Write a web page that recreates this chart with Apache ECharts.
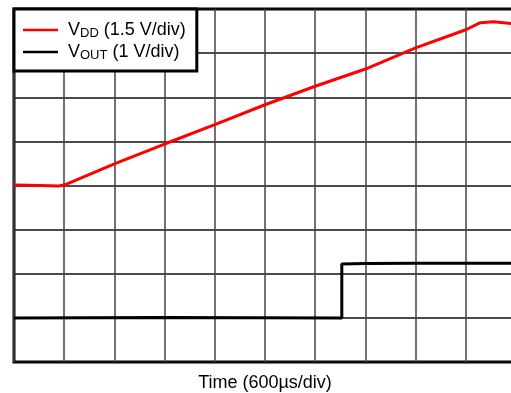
<!DOCTYPE html>
<html>
<head>
<meta charset="utf-8">
<script src="https://cdn.jsdelivr.net/npm/echarts@6/dist/echarts.min.js"></script>
<style>html,body{margin:0;padding:0;background:#fff}#c{width:511px;height:393px}</style>
</head>
<body>
<div id="c"></div>
<script>
// x in divisions (600 µs/div), y in divisions from bottom
const vddX = [0, 0.53, 0.89, 1.0, 2.0, 3.0, 4.0, 5.0, 6.0, 7.0, 8.0, 9.0, 9.29, 9.55, 9.91, 10];
const vddY = [4.01, 4.0, 3.99, 4.01, 4.49, 4.94, 5.38, 5.83, 6.25, 6.64, 7.12, 7.53, 7.69, 7.71, 7.67, 7.66];
const voutX = [0, 3.0, 6.53, 6.53, 7.0, 8.0, 10];
const voutY = [1.0, 1.01, 1.0, 2.22, 2.23, 2.24, 2.24];
const xTicks = [0, 1, 2, 3, 4, 5, 6, 7, 8, 9, 10];
const yTicks = [0, 1, 2, 3, 4, 5, 6, 7, 8];
const seriesNames = ['VDD', 'VOUT'];
const legendLabels = {VDD: 'V{sub|DD} (1.5 V/div)', VOUT: 'V{sub|OUT} (1 V/div)'};
const xTitle = 'Time (600\u00b5s/div)';

const zip = (a, b) => a.map((v, i) => [v, b[i]]);
const chart = echarts.init(document.getElementById('c'));
const font = 'Liberation Sans, Arial, sans-serif';
chart.setOption({
  animation: false,
  grid: {left: 14, top: 9, width: 502, height: 353, show: true, borderColor: '#000', borderWidth: 3,
         backgroundColor: 'transparent', outerBoundsMode: 'none', containLabel: false},
  xAxis: {
    type: 'value', min: xTicks[0], max: xTicks[xTicks.length - 1], interval: 1,
    axisLine: {show: false}, axisTick: {show: false}, axisLabel: {show: false},
    splitLine: {show: true, lineStyle: {color: '#444', width: 1.5}},
    name: xTitle, nameLocation: 'middle', nameGap: 12,
    nameTextStyle: {fontFamily: font, fontSize: 18, color: '#000', verticalAlign: 'top'}
  },
  yAxis: {
    type: 'value', min: yTicks[0], max: yTicks[yTicks.length - 1], interval: 1,
    axisLine: {show: false}, axisTick: {show: false}, axisLabel: {show: false},
    splitLine: {show: true, lineStyle: {color: '#111', width: 1.5}}
  },
  legend: {
    orient: 'vertical', left: 14, top: 9, data: seriesNames,
    backgroundColor: '#fff', borderColor: '#000', borderWidth: 3,
    padding: [11, 11, 9, 9], itemGap: 2, itemWidth: 35, itemHeight: 2.5,
    icon: 'rect',
    formatter: n => legendLabels[n],
    textStyle: {fontFamily: font, fontSize: 18, lineHeight: 20, color: '#000', padding: [0, 0, 0, 5],
      rich: {sub: {fontFamily: font, fontSize: 13, lineHeight: 20, verticalAlign: 'bottom', padding: [5, 0, 0, 0]}}}
  },
  series: [
    {name: seriesNames[0], type: 'line', data: zip(vddX, vddY), showSymbol: false, symbol: 'none',
     lineStyle: {color: '#ff0000', width: 3}, itemStyle: {color: '#ff0000'}, z: 3},
    {name: seriesNames[1], type: 'line', data: zip(voutX, voutY), showSymbol: false, symbol: 'none',
     lineStyle: {color: '#000', width: 3}, itemStyle: {color: '#000'}, z: 2}
  ]
});
</script>
</body>
</html>
